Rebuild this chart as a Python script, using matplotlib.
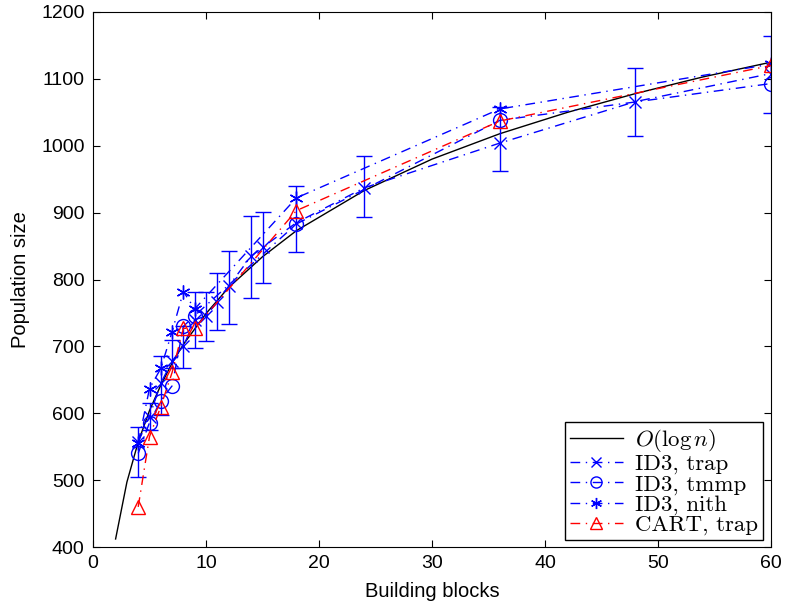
import matplotlib
matplotlib.use("Agg")
import matplotlib.pyplot as plt
import numpy as np

# O(log n) reference curve
log_n = [2, 3, 4, 5, 6, 7, 8, 10, 12, 15, 18, 24, 30, 36, 42, 48, 54, 60]
log_y = [412, 497, 557, 604, 642, 675, 703, 749, 788, 834, 873, 933, 980, 1018, 1050, 1078, 1103, 1125]

# ID3, trap (with error bars)
trap_x = [4, 5, 6, 7, 8, 9, 10, 11, 12, 14, 15, 18, 24, 36, 48, 60]
trap_y = [557, 595, 645, 678, 700, 740, 745, 767, 790, 835, 848, 885, 937, 1004, 1066, 1108]
trap_lo = [505, 575, 597, 668, 668, 697, 708, 724, 733, 773, 795, 841, 893, 962, 1014, 1049]
trap_hi = [579, 615, 685, 710, 730, 782, 781, 809, 843, 895, 901, 940, 985, 1058, 1116, 1164]

# ID3, tmmp
tmmp_x = [4, 5, 6, 7, 8, 9, 18, 36, 60]
tmmp_y = [540, 586, 619, 641, 730, 746, 883, 1038, 1093]

# ID3, nith
nith_x = [4, 5, 6, 7, 8, 9, 18, 36, 60]
nith_y = [556, 637, 667, 722, 782, 756, 922, 1055, 1122]

# CART, trap
cart_x = [4, 5, 6, 7, 8, 9, 18, 36, 60]
cart_y = [460, 565, 610, 661, 727, 727, 903, 1037, 1120]

plt.rcParams.update({
    "font.family": ["Liberation Sans", "DejaVu Sans"],
    "mathtext.fontset": "cm",
    "font.size": 14,
})

fig = plt.figure(figsize=(7.87, 6.08), dpi=100)
ax = fig.add_axes([93 / 787, 1 - 547 / 608, (771 - 93) / 787, (547 - 12) / 608])

dashdot = (0, (7, 4, 1, 4))
ms = 9

ax.plot(log_n, log_y, color="black", lw=1, label=r"$O(\log n)$")

trap_y_arr = np.array(trap_y)
ax.errorbar(trap_x, trap_y, yerr=[trap_y_arr - np.array(trap_lo), np.array(trap_hi) - trap_y_arr],
            fmt="none", ecolor="blue", elinewidth=1, capsize=6, capthick=1)
ax.plot(trap_x, trap_y, color="blue", lw=1, linestyle=dashdot, marker="x", ms=ms,
        mew=1, label="ID3, trap")
ax.plot(tmmp_x, tmmp_y, color="blue", lw=1, linestyle=dashdot, marker="o", ms=ms + 1,
        mew=1, mfc="none", label="ID3, tmmp")
ax.plot(nith_x, nith_y, color="blue", lw=1, linestyle=dashdot, marker=(6, 2, 0), ms=ms + 1,
        mew=1, label="ID3, nith")
ax.plot(cart_x, cart_y, color="red", lw=1, linestyle=dashdot, marker="^", ms=ms + 1,
        mew=1, mfc="none", label="CART, trap")

ax.set_xlim(0, 60)
ax.set_ylim(400, 1200)
ax.set_xticks(range(0, 61, 10))
ax.set_yticks(range(400, 1201, 100))
ax.tick_params(direction="in", top=True, right=True, length=5, labelsize=14, pad=6)
ax.set_xlabel("Building blocks", fontsize=14.5, labelpad=7)
ax.set_ylabel("Population size", fontsize=14.5, labelpad=8)

leg = ax.legend(loc="lower right", prop={"family": "cmr10", "size": 16.5}, fancybox=False,
                framealpha=1, edgecolor="black", bbox_to_anchor=(0.988, 0.013),
                borderaxespad=0, handlelength=2.3, labelspacing=0.0,
                borderpad=0.2, handletextpad=0.55, markerscale=0.8)
leg.get_frame().set_linewidth(1)

fig.savefig("out.png", dpi=100)
